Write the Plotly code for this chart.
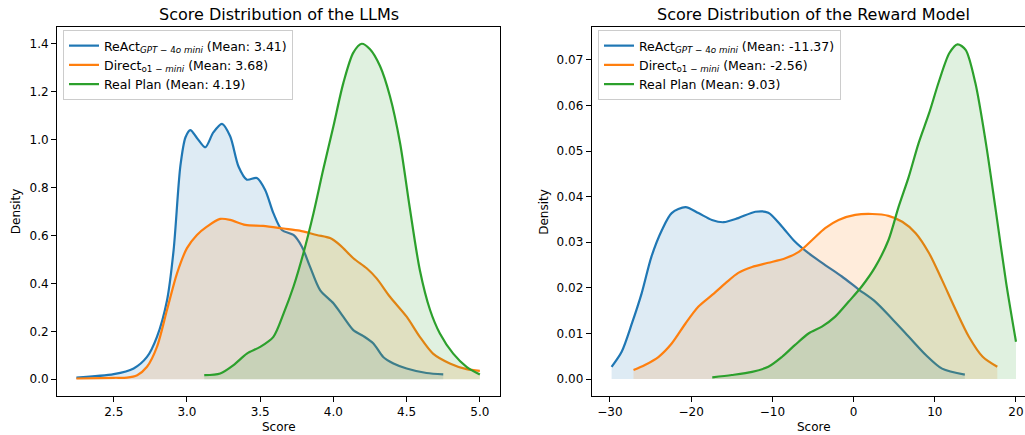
import plotly.graph_objects as go

W, H = 1025, 435

# ---------------- data ----------------
# Left panel: Score Distribution of the LLMs
llm_react_x = [2.245, 2.5, 2.636, 2.727, 2.795, 2.864, 2.909, 2.955, 2.99, 3.023, 3.068, 3.125, 3.18, 3.239,
               3.295, 3.352, 3.409, 3.477, 3.534, 3.59, 3.648, 3.727, 3.784, 3.84, 3.909, 4.0, 4.068, 4.136,
               4.205, 4.273, 4.34, 4.41, 4.5, 4.636, 4.75]
llm_react_y = [0.007, 0.021, 0.045, 0.093, 0.177, 0.33, 0.54, 0.89, 1.01, 1.04, 1.007, 0.968, 1.03, 1.066,
               1.014, 0.888, 0.833, 0.84, 0.79, 0.693, 0.623, 0.602, 0.554, 0.47, 0.372, 0.317, 0.26, 0.205,
               0.18, 0.149, 0.093, 0.066, 0.045, 0.026, 0.02]

llm_direct_x = [2.245, 2.5, 2.59, 2.66, 2.727, 2.795, 2.864, 2.932, 3.0, 3.068, 3.136, 3.227, 3.295, 3.398,
                3.52, 3.66, 3.77, 3.886, 3.977, 4.045, 4.136, 4.227, 4.295, 4.386, 4.5, 4.59, 4.68, 4.795,
                4.909, 5.0]
llm_direct_y = [0.003, 0.006, 0.007, 0.017, 0.052, 0.135, 0.29, 0.442, 0.547, 0.602, 0.637, 0.669, 0.665,
                0.644, 0.64, 0.629, 0.62, 0.602, 0.589, 0.56, 0.505, 0.463, 0.421, 0.344, 0.261, 0.177,
                0.107, 0.066, 0.042, 0.035]

llm_real_x = [3.118, 3.227, 3.318, 3.409, 3.5, 3.59, 3.66, 3.727, 3.795, 3.864, 3.93, 4.0, 4.068, 4.136,
              4.193, 4.25, 4.318, 4.386, 4.455, 4.52, 4.59, 4.66, 4.727, 4.818, 4.909, 5.0]
llm_real_y = [0.017, 0.024, 0.059, 0.107, 0.135, 0.177, 0.275, 0.386, 0.526, 0.693, 0.874, 1.056, 1.237,
              1.363, 1.4, 1.377, 1.307, 1.181, 0.986, 0.721, 0.456, 0.289, 0.191, 0.107, 0.052, 0.02]

# Right panel: Score Distribution of the Reward Model
rm_react_x = [-29.8, -28.56, -27.3, -26.1, -24.9, -23.6, -22.4, -20.7, -19.1, -17.45, -16.0, -14.2, -12.1,
              -10.5, -8.8, -7.2, -5.55, -3.5, -1.44, 0.6, 2.67, 4.7, 6.8, 8.9, 10.9, 13.7]
rm_react_y = [0.0027, 0.006, 0.0122, 0.0188, 0.0268, 0.0327, 0.0364, 0.0377, 0.0364, 0.0349, 0.0344,
              0.0353, 0.0367, 0.0365, 0.0334, 0.0301, 0.0276, 0.025, 0.0225, 0.0197, 0.017, 0.0133,
              0.0093, 0.0053, 0.0023, 0.001]

rm_direct_x = [-27.1, -25.7, -24.0, -22.4, -20.7, -19.1, -17.45, -15.8, -14.2, -12.5, -10.5, -8.4, -6.75,
               -5.1, -3.5, -1.85, 0.2, 2.3, 4.3, 6.0, 7.65, 9.3, 10.9, 12.6, 14.2, 15.9, 17.7]
rm_direct_y = [0.002, 0.0031, 0.0049, 0.0078, 0.0122, 0.0159, 0.0184, 0.021, 0.0233, 0.0246, 0.0255,
               0.0265, 0.0279, 0.0305, 0.0331, 0.0349, 0.036, 0.0362, 0.0358, 0.0345, 0.032, 0.0276,
               0.0217, 0.0151, 0.0093, 0.0049, 0.0027]

rm_real_x = [-17.4, -15.0, -12.5, -10.5, -8.8, -7.2, -5.55, -3.9, -2.26, -0.6, 1.0, 2.67, 4.3, 5.55, 6.8,
             8.0, 9.3, 10.5, 11.8, 12.8, 13.8, 15.0, 16.3, 17.5, 18.8, 20.0]
rm_real_y = [0.0004, 0.0009, 0.0016, 0.0027, 0.0049, 0.0075, 0.01, 0.0115, 0.0137, 0.017, 0.0203, 0.0246,
             0.0305, 0.0378, 0.0444, 0.0517, 0.0583, 0.0652, 0.0715, 0.0734, 0.0722, 0.0649, 0.0517,
             0.0371, 0.021, 0.0082]

llm_labels = ["ReAct<sub><i>GPT</i> − 4<i>o mini</i></sub> (Mean: 3.41)",
              "Direct<sub>o1 − <i>mini</i></sub> (Mean: 3.68)",
              "Real Plan (Mean: 4.19)"]
rm_labels = ["ReAct<sub><i>GPT</i> − 4<i>o mini</i></sub> (Mean: -11.37)",
             "Direct<sub>o1 − <i>mini</i></sub> (Mean: -2.56)",
             "Real Plan (Mean: 9.03)"]

llm_xticks = [2.5, 3.0, 3.5, 4.0, 4.5, 5.0]
llm_xticktext = ["2.5", "3.0", "3.5", "4.0", "4.5", "5.0"]
llm_yticks = [0.0, 0.2, 0.4, 0.6, 0.8, 1.0, 1.2, 1.4]
llm_yticktext = ["0.0", "0.2", "0.4", "0.6", "0.8", "1.0", "1.2", "1.4"]
rm_xticks = [-30, -20, -10, 0, 10, 20]
rm_xticktext = ["−30", "−20", "−10", "0", "10", "20"]
rm_yticks = [0.0, 0.01, 0.02, 0.03, 0.04, 0.05, 0.06, 0.07]
rm_yticktext = ["0.00", "0.01", "0.02", "0.03", "0.04", "0.05", "0.06", "0.07"]

colors = ["#1f77b4", "#ff7f0e", "#2ca02c"]
fills = ["rgba(31,119,180,0.15)", "rgba(255,127,14,0.15)", "rgba(44,160,44,0.15)"]

FONT = "DejaVu Sans"

fig = go.Figure()

left_series = [(llm_react_x, llm_react_y), (llm_direct_x, llm_direct_y), (llm_real_x, llm_real_y)]
right_series = [(rm_react_x, rm_react_y), (rm_direct_x, rm_direct_y), (rm_real_x, rm_real_y)]

for (xs, ys), lab, c, f in zip(left_series, llm_labels, colors, fills):
    fig.add_trace(go.Scatter(x=xs, y=ys, mode="lines", fill="tozeroy", fillcolor=f,
                             line=dict(width=0, shape="spline", smoothing=0.8, color=c),
                             showlegend=False, hoverinfo="skip", xaxis="x", yaxis="y"))
    fig.add_trace(go.Scatter(x=xs, y=ys, mode="lines", name=lab,
                             line=dict(width=2.2, shape="spline", smoothing=0.8, color=c),
                             xaxis="x", yaxis="y", legend="legend"))

for (xs, ys), lab, c, f in zip(right_series, rm_labels, colors, fills):
    fig.add_trace(go.Scatter(x=xs, y=ys, mode="lines", fill="tozeroy", fillcolor=f,
                             line=dict(width=0, shape="spline", smoothing=0.8, color=c),
                             showlegend=False, hoverinfo="skip", xaxis="x2", yaxis="y2"))
    fig.add_trace(go.Scatter(x=xs, y=ys, mode="lines", name=lab,
                             line=dict(width=2.2, shape="spline", smoothing=0.8, color=c),
                             xaxis="x2", yaxis="y2", legend="legend2"))

y_dom = [(H - 396) / H, (H - 27) / H]
axis_common = dict(showgrid=False, zeroline=False, showline=True, linecolor="#000000", linewidth=1,
                   ticks="outside", ticklen=5, tickwidth=1, tickcolor="#000000",
                   tickfont=dict(family=FONT, size=12, color="#000000"))

legend_common = dict(xanchor="left", yanchor="top", bgcolor="rgba(255,255,255,0.8)",
                     bordercolor="#cccccc", borderwidth=1,
                     font=dict(family=FONT, size=12.5, color="#000000"), tracegroupgap=0)

fig.update_layout(
    width=W, height=H,
    margin=dict(l=0, r=0, t=0, b=0),
    paper_bgcolor="white", plot_bgcolor="white",
    font=dict(family=FONT, size=12, color="#000000"),
    xaxis=dict(domain=[57 / W, 500 / W], range=[2.1125, 5.1375], tickvals=llm_xticks,
               ticktext=llm_xticktext, mirror=True, anchor="y", **axis_common),
    yaxis=dict(domain=y_dom, range=[-0.07, 1.47], tickvals=llm_yticks, ticktext=llm_yticktext,
               mirror=True, anchor="x", **axis_common),
    xaxis2=dict(domain=[591.7 / W, 1.0], range=[-32.25, 21.11], tickvals=rm_xticks,
                ticktext=rm_xticktext, mirror=True, anchor="y2", **axis_common),
    yaxis2=dict(domain=y_dom, range=[-0.0037, 0.0772], tickvals=rm_yticks, ticktext=rm_yticktext,
                mirror=False, anchor="x2", **axis_common),
    legend=dict(x=63 / W, y=1 - 30 / H, **legend_common),
    legend2=dict(x=598 / W, y=1 - 30 / H, **legend_common),
    annotations=[
        dict(text="Score Distribution of the LLMs", x=278.5 / W, y=1 - 15 / H, xref="paper", yref="paper",
             xanchor="center", yanchor="middle", showarrow=False, font=dict(family=FONT, size=16)),
        dict(text="Score Distribution of the Reward Model", x=813.5 / W, y=1 - 15 / H, xref="paper",
             yref="paper", xanchor="center", yanchor="middle", showarrow=False,
             font=dict(family=FONT, size=16)),
        dict(text="Score", x=278.5 / W, y=1 - 427 / H, xref="paper", yref="paper",
             xanchor="center", yanchor="middle", showarrow=False, font=dict(family=FONT, size=12)),
        dict(text="Score", x=813.5 / W, y=1 - 427 / H, xref="paper", yref="paper",
             xanchor="center", yanchor="middle", showarrow=False, font=dict(family=FONT, size=12)),
        dict(text="Density", x=15.7 / W, y=1 - 211.5 / H, xref="paper", yref="paper", textangle=-90,
             xanchor="center", yanchor="middle", showarrow=False, font=dict(family=FONT, size=12)),
        dict(text="Density", x=543.3 / W, y=1 - 211.5 / H, xref="paper", yref="paper", textangle=-90,
             xanchor="center", yanchor="middle", showarrow=False, font=dict(family=FONT, size=12)),
    ],
)

fig.write_html("out.html", config={"displayModeBar": False},
               post_script="document.body.style.margin='0px';document.body.style.overflow='hidden';")
